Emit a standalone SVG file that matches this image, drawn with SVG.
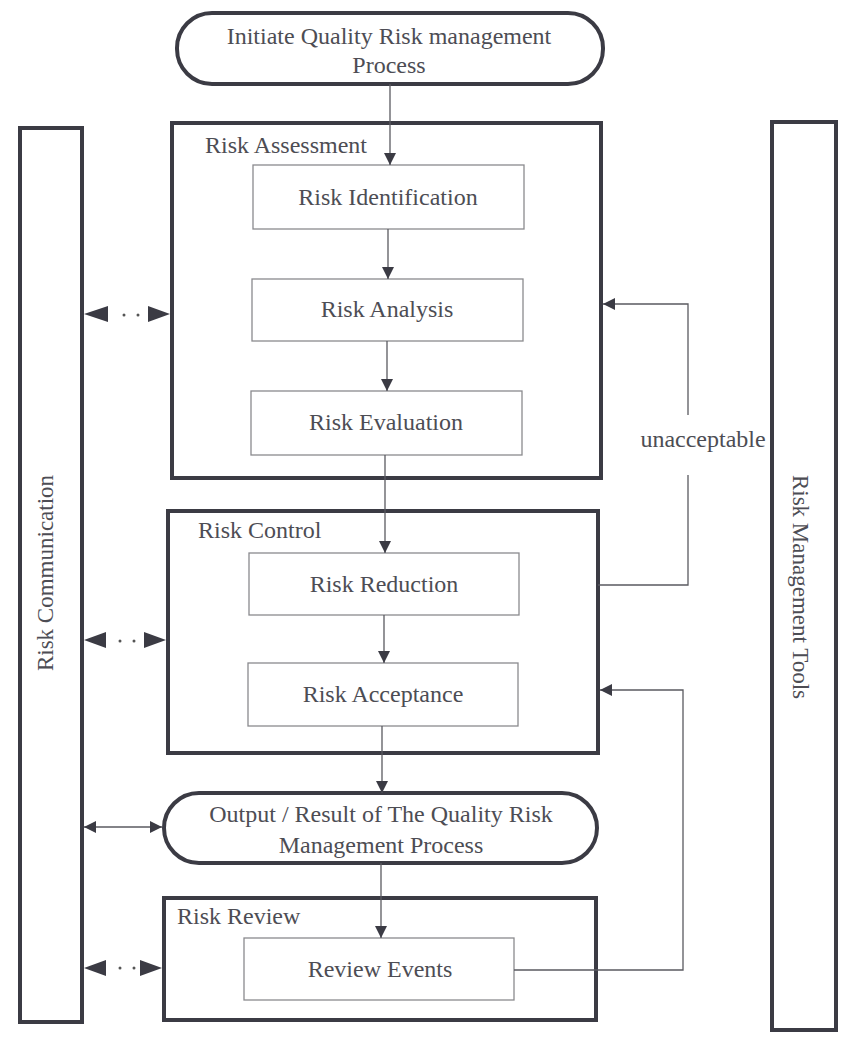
<svg xmlns="http://www.w3.org/2000/svg" width="848" height="1042" viewBox="0 0 848 1042">
<style>
.thick{fill:#fff;stroke:#3b3b44;stroke-width:4}
.thin{fill:#fff;stroke:#8a8a8e;stroke-width:1.3}
.ln{fill:none;stroke:#5a5a60;stroke-width:1.3}
text{font-family:Liberation Serif,Times New Roman,DejaVu Serif,serif;fill:#4d4d54;font-size:24px}
.r{font-size:23px}
.c{text-anchor:middle}
.tri{fill:#3b3b44}
</style>
<defs>
<marker id="ah" viewBox="0 0 12 12" refX="12" refY="6" markerWidth="12" markerHeight="12" markerUnits="userSpaceOnUse" orient="auto-start-reverse"><path d="M0,0 L12,6 L0,12 Z" fill="#3b3b44"/></marker>
</defs>
<rect width="848" height="1042" fill="#fff"/>
<g id="risk-communication">
<rect class="thick" x="20" y="128" width="62" height="894"/>
<text class="r c" transform="translate(53,573) rotate(-90)">Risk Communication</text>
</g>
<g id="risk-management-tools">
<rect class="thick" x="772" y="122" width="64" height="908"/>
<text class="r c" transform="translate(793,587) rotate(90)">Risk Management Tools</text>
</g>
<g id="initiate">
<rect class="thick" x="177" y="13" width="426" height="71" rx="35" ry="35"/>
<text class="c" x="389" y="44">Initiate Quality Risk management</text>
<text class="c" x="389" y="73">Process</text>
</g>
<g id="risk-assessment">
<rect class="thick" x="172" y="123" width="429" height="355"/>
<text x="205" y="153">Risk Assessment</text>
</g>
<g id="risk-identification">
<rect class="thin" x="253" y="165" width="271" height="64"/>
<text class="c" x="388" y="205">Risk Identification</text>
</g>
<g id="risk-analysis">
<rect class="thin" x="252" y="279" width="271" height="62"/>
<text class="c" x="387" y="317">Risk Analysis</text>
</g>
<g id="risk-evaluation">
<rect class="thin" x="251" y="391" width="271" height="64"/>
<text class="c" x="386" y="430">Risk Evaluation</text>
</g>
<g id="risk-control">
<rect class="thick" x="168" y="511" width="430" height="242"/>
<text x="198" y="538">Risk Control</text>
</g>
<g id="risk-reduction">
<rect class="thin" x="249" y="553" width="270" height="62"/>
<text class="c" x="384" y="592">Risk Reduction</text>
</g>
<g id="risk-acceptance">
<rect class="thin" x="248" y="663" width="270" height="63"/>
<text class="c" x="383" y="702">Risk Acceptance</text>
</g>
<g id="output">
<rect class="thick" x="164" y="793" width="433" height="70" rx="35" ry="35"/>
<text class="c" x="381" y="822">Output / Result of The Quality Risk</text>
<text class="c" x="381" y="853">Management Process</text>
</g>
<g id="risk-review">
<rect class="thick" x="164" y="898" width="432" height="122"/>
<text x="177" y="924">Risk Review</text>
</g>
<g id="review-events">
<rect class="thin" x="244" y="938" width="270" height="62"/>
<text class="c" x="380" y="977">Review Events</text>
</g>
<g id="unacceptable-label">
<text class="c" x="703" y="447">unacceptable</text>
</g>
<g id="connectors">
<line class="ln" x1="390" y1="84" x2="390" y2="165" marker-end="url(#ah)"/>
<line class="ln" x1="388" y1="229" x2="388" y2="279" marker-end="url(#ah)"/>
<line class="ln" x1="387" y1="341" x2="387" y2="391" marker-end="url(#ah)"/>
<line class="ln" x1="385" y1="455" x2="385" y2="553" marker-end="url(#ah)"/>
<line class="ln" x1="384" y1="615" x2="384" y2="663" marker-end="url(#ah)"/>
<line class="ln" x1="382" y1="726" x2="382" y2="793" marker-end="url(#ah)"/>
<line class="ln" x1="381" y1="863" x2="381" y2="938" marker-end="url(#ah)"/>
<polyline class="ln" points="598,585 688,585 688,475"/>
<polyline class="ln" points="688,415 688,304 603,304" marker-end="url(#ah)"/>
<polyline class="ln" points="514,970 683,970 683,690 600,690" marker-end="url(#ah)"/>
<line class="ln" x1="84" y1="827" x2="162" y2="827" marker-start="url(#ah)" marker-end="url(#ah)"/>
<g id="comm-assess">
<polygon class="tri" points="84,314 108,306 108,322"/>
<circle cx="124" cy="315" r="1.5" fill="#555"/><circle cx="138" cy="315" r="1.5" fill="#555"/>
<polygon class="tri" points="170,314 148,306 148,322"/>
</g>
<g id="comm-control">
<polygon class="tri" points="84,640 106,632 106,648"/>
<circle cx="120" cy="641" r="1.5" fill="#555"/><circle cx="134" cy="641" r="1.5" fill="#555"/>
<polygon class="tri" points="166,640 144,632 144,648"/>
</g>
<g id="comm-review">
<polygon class="tri" points="84,968 106,960 106,976"/>
<circle cx="120" cy="968" r="1.5" fill="#555"/><circle cx="134" cy="968" r="1.5" fill="#555"/>
<polygon class="tri" points="162,968 140,960 140,976"/>
</g>
</g>
</svg>
